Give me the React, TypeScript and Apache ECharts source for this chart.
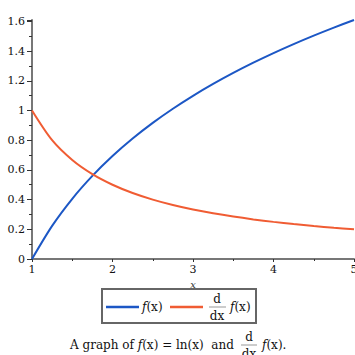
import React, { useEffect, useRef } from "react";
import * as echarts from "echarts";

const xValues = [1, 1.25, 1.5, 1.75, 2, 2.25, 2.5, 2.75, 3, 3.25, 3.5, 3.75, 4, 4.25, 4.5, 4.75, 5];
const fValues = [0, 0.2231, 0.4055, 0.5596, 0.6931, 0.8109, 0.9163, 1.0116, 1.0986, 1.1787, 1.2528, 1.3218, 1.3863, 1.4469, 1.5041, 1.5581, 1.6094];
const dfValues = [1, 0.8, 0.6667, 0.5714, 0.5, 0.4444, 0.4, 0.3636, 0.3333, 0.3077, 0.2857, 0.2667, 0.25, 0.2353, 0.2222, 0.2105, 0.2];
const seriesNames = ["f(x)", "d/dx f(x)"];
const caption = "A graph of f(x) = ln(x) and d/dx f(x).";

const BLUE = "#1c57c5";
const ORANGE = "#f05c33";
const SERIF = "DejaVu Serif";

export default function App() {
  const ref = useRef<HTMLDivElement>(null);
  useEffect(() => {
    if (!ref.current) return;
    const chart = echarts.init(ref.current, null, { renderer: "svg" });
    const fData = xValues.map((x, i) => [x, fValues[i]]);
    const dfData = xValues.map((x, i) => [x, dfValues[i]]);
    const rich = {
      i: { fontFamily: SERIF, fontStyle: "italic", fontSize: 12, fill: "#111" },
      n: { fontFamily: SERIF, fontSize: 12, fill: "#111" },
    };
    chart.setOption({
      animation: false,
      backgroundColor: "#fff",
      grid: { left: 32, right: 1, top: 20, bottom: 96, containLabel: false, outerBoundsMode: "none" },
      xAxis: {
        type: "value",
        min: 1,
        max: 5,
        interval: 1,
        name: "x",
        nameLocation: "middle",
        nameGap: 20,
        nameTextStyle: { fontFamily: SERIF, fontStyle: "italic", fontSize: 10, color: "#333" },
        axisLine: { lineStyle: { color: "#777", width: 2 } },
        axisTick: { show: true, length: 3, lineStyle: { color: "#333" } },
        minorTick: { show: true, splitNumber: 2, length: 2, lineStyle: { color: "#333" } },
        splitLine: { show: false },
        axisLabel: { fontFamily: SERIF, fontSize: 11, color: "#111", margin: 5 },
      },
      yAxis: {
        type: "value",
        min: 0,
        max: 1.6094,
        interval: 0.2,
        axisLine: { show: true, lineStyle: { color: "#777", width: 2 } },
        axisTick: { show: true, length: 5, lineStyle: { color: "#333" } },
        minorTick: { show: true, splitNumber: 2, length: 3, lineStyle: { color: "#333" } },
        splitLine: { show: false },
        axisLabel: {
          fontFamily: SERIF,
          fontSize: 11,
          color: "#111",
          margin: 7,
          formatter: (v: number) => {
            const r = Math.round(v * 10) / 10;
            if (Math.abs(v - r) > 1e-6 || Math.round(r * 10) % 2 !== 0) return "";
            return String(r);
          },
        },
      },
      series: [
        {
          name: seriesNames[0],
          type: "line",
          data: fData,
          smooth: 0.3,
          showSymbol: false,
          lineStyle: { color: BLUE, width: 2 },
        },
        {
          name: seriesNames[1],
          type: "line",
          data: dfData,
          smooth: 0.3,
          showSymbol: false,
          lineStyle: { color: ORANGE, width: 2 },
        },
      ],
      graphic: [
        { type: "rect", shape: { x: 102, y: 289, width: 154, height: 34 }, style: { fill: "none", stroke: "#666", lineWidth: 2 } },
        { type: "line", shape: { x1: 106, y1: 307, x2: 139, y2: 307 }, style: { stroke: BLUE, lineWidth: 2.5 } },
        { type: "text", x: 142, y: 307, style: { text: "{i|f}{n|(x)}", rich, verticalAlign: "middle", align: "left" } },
        { type: "line", shape: { x1: 170, y1: 307, x2: 203, y2: 307 }, style: { stroke: ORANGE, lineWidth: 2.5 } },
        { type: "text", x: 217, y: 299, style: { text: "d", font: `12px ${SERIF}`, fill: "#111", align: "center", verticalAlign: "middle" } },
        { type: "line", shape: { x1: 209, y1: 307, x2: 226, y2: 307 }, style: { stroke: "#999", lineWidth: 1 } },
        { type: "text", x: 217, y: 316, style: { text: "dx", font: `12px ${SERIF}`, fill: "#111", align: "center", verticalAlign: "middle" } },
        { type: "text", x: 230, y: 307, style: { text: "{i|f}{n|(x)}", rich, verticalAlign: "middle", align: "left" } },

        { type: "text", x: 70, y: 345, style: { text: "{n|A graph of }{i|f}{n|(x) = ln(x)  and}", rich, verticalAlign: "middle", align: "left" } },
        { type: "text", x: 249, y: 337, style: { text: "d", font: `12px ${SERIF}`, fill: "#111", align: "center", verticalAlign: "middle" } },
        { type: "line", shape: { x1: 241, y1: 345, x2: 257, y2: 345 }, style: { stroke: "#999", lineWidth: 1 } },
        { type: "text", x: 249, y: 354, style: { text: "dx", font: `12px ${SERIF}`, fill: "#111", align: "center", verticalAlign: "middle" } },
        { type: "text", x: 262, y: 345, style: { text: "{i|f}{n|(x).}", rich, verticalAlign: "middle", align: "left" } },
      ],
    });
    return () => chart.dispose();
  }, []);
  return <div ref={ref} aria-label={caption} style={{ position: "fixed", left: 0, top: 0, width: 355, height: 355 }} />;
}
